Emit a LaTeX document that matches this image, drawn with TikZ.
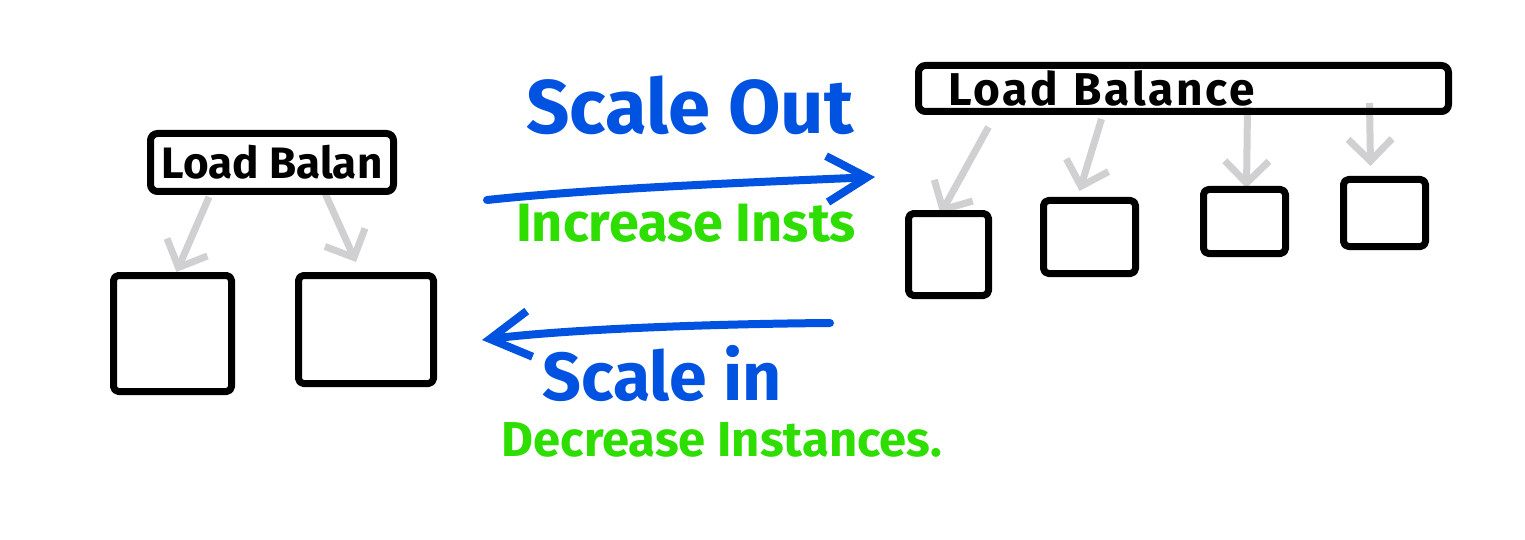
\documentclass[tikz,border=0pt]{standalone}
\usepackage{fontspec}
\setmainfont{Fira Sans}
\usetikzlibrary{arrows.meta,backgrounds,positioning}
\definecolor{penblue}{RGB}{0,82,224}
\definecolor{pengreen}{RGB}{45,222,0}
\definecolor{pengray}{RGB}{208,208,210}
\tikzstyle{sketch}=[
  x=1pt,y=-1pt,line cap=round,line join=round
]
\tikzstyle{lbbox}=[
  draw,line width=7pt,rounded corners=7pt,anchor=north west,inner ysep=0pt,
  font=\fontsize{44}{44}\selectfont\bfseries
]
\tikzstyle{server}=[
  draw,line width=7pt,rounded corners=5pt,anchor=north west,inner sep=0pt
]
\tikzstyle{feed}=[
  draw=pengray,line width=7pt,-{Straight Barb[length=22pt,width=44pt,line width=7pt]}
]
\tikzstyle{scalearrow}=[
  draw=penblue,line width=8pt,-{Straight Barb[length=40pt,width=46pt,line width=8pt]}
]
\tikzstyle{bluetext}=[
  text=penblue,inner sep=0pt
]
\tikzstyle{greentext}=[
  text=pengreen,inner sep=0pt
]

\begin{document}
\begin{tikzpicture}[sketch]
    \useasboundingbox (0,0) rectangle (1525,540);
    % before: one load balancer, two instances
    \node (lbl) at (147,130) [lbbox,minimum width=243pt,minimum height=58pt,inner xsep=4pt] {Load Balan};
    \node (s1) at (110,272) [server,minimum width=118pt,minimum height=116pt] {};
    \node (s2) at (295,272) [server,minimum width=135pt,minimum height=108pt] {};
    % after: load balancer with four instances
    \node (lbr) at (915,62) [lbbox,minimum height=46pt,text width=500pt,inner xsep=15pt,align=left,
      font=\fontsize{46}{46}\selectfont\bfseries\addfontfeature{LetterSpace=6}] {\hspace*{15pt}Load Balance};
    \node (r1) at (905,210) [server,minimum width=80pt,minimum height=82pt] {};
    \node (r2) at (1040,197) [server,minimum width=92pt,minimum height=73pt] {};
    \node (r3) at (1200,186) [server,minimum width=82pt,minimum height=64pt] {};
    \node (r4) at (1340,176) [server,minimum width=82pt,minimum height=67pt] {};
    % labels
    \node (out) at (690,105) [bluetext,font=\fontsize{76}{76}\selectfont\bfseries] {Scale Out};
    \node (inc) at (686,223) [greentext,font=\fontsize{54}{54}\selectfont\bfseries] {Increase Insts};
    \node (in) at (662,374) [bluetext,font=\fontsize{68}{68}\selectfont\bfseries] {Scale in};
    \node (dec) at (722,440) [greentext,font=\fontsize{49}{49}\selectfont\bfseries] {Decrease Instances.};
    \coordinate (outs) at (487,200);
    \coordinate (oute) at (875,177);
    \coordinate (ins) at (830,323);
    \coordinate (ine) at (482,340);
    \begin{scope}[on background layer]
      \draw [feed] ([xshift=-63pt,yshift=-2pt]lbl.south) -- ([xshift=4pt]s1.north);
      \draw [feed] ([xshift=52pt,yshift=4pt]lbl.south) -- ([xshift=-10pt,yshift=10pt]s2.north);
      \draw [feed] ([xshift=-195pt,yshift=-12pt]lbr.south) -- ([xshift=-8pt,yshift=-4pt]r1.north);
      \draw [feed] ([xshift=-82pt,yshift=-4pt]lbr.south) -- ([xshift=-10pt,yshift=6pt]r2.north);
      \draw [feed] ([xshift=64pt,yshift=8pt]lbr.south) -- ([xshift=2pt,yshift=-2pt]r3.north);
      \draw [feed] ([xshift=186pt,yshift=12pt]lbr.south) -- ([xshift=-14pt,yshift=10pt]r4.north);
    \end{scope}
    \draw [scalearrow] (outs) .. controls (600,188) and (760,182) .. (oute);
    \draw [scalearrow] (ins) .. controls (700,324) and (560,330) .. (ine);
\end{tikzpicture}
\end{document}
